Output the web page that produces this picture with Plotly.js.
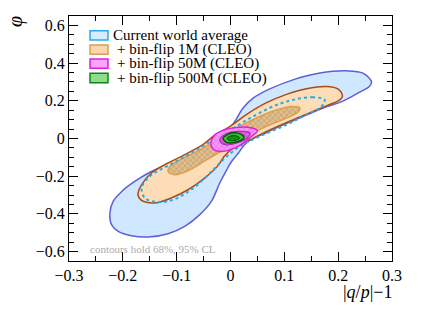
<!DOCTYPE html>
<html><head><meta charset="utf-8">
<script src="https://cdn.plot.ly/plotly-3.0.1.min.js"></script>
<style>html,body{margin:0;padding:0;background:#fff}#plot{width:436px;height:315px}</style>
</head><body><div id="plot"></div>
<script>
// Contour outlines: x = |q/p|-1, y = phi
const worldAvg95X = [0.262,0.246,0.215,0.166,0.116,0.073,0.042,0.023,0.008,-0.005,-0.030,-0.048,-0.079,-0.110,-0.147,-0.178,-0.202,-0.218,-0.224,-0.221,-0.2085,-0.184,-0.153,-0.116,-0.085,-0.057,-0.035,-0.020,-0.007,0.002,0.014,0.030,0.067,0.116,0.178,0.209,0.240,0.258,0.262];
const worldAvg95Y = [0.300,0.347,0.359,0.347,0.311,0.263,0.214,0.161,0.090,0.045,0.005,-0.051,-0.092,-0.130,-0.175,-0.228,-0.281,-0.334,-0.395,-0.457,-0.493,-0.516,-0.5225,-0.505,-0.466,-0.404,-0.331,-0.236,-0.166,-0.122,-0.080,-0.022,0.032,0.094,0.168,0.198,0.246,0.276,0.300];

const worldAvg68X = [0.175,0.153,0.116,0.079,0.042,0.005,-0.032,-0.069,-0.1126,-0.150,-0.165,-0.159,-0.137,-0.1065,-0.069,-0.038,-0.0137,0.017,0.054,0.104,0.141,0.169,0.175];
const worldAvg68Y = [0.205,0.219,0.205,0.170,0.117,0.055,-0.007,-0.069,-0.139,-0.201,-0.263,-0.316,-0.337,-0.325,-0.263,-0.183,-0.113,-0.042,0.011,0.073,0.126,0.170,0.205];

const flip1M95X = [0.208,0.200,0.178,0.141,0.104,0.067,0.030,0.000,-0.030,-0.050,-0.085,-0.116,-0.147,-0.165,-0.172,-0.166,-0.154,-0.134,-0.110,-0.079,-0.048,-0.022,-0.012,0.005,0.030,0.067,0.116,0.178,0.203,0.208];
const flip1M95Y = [0.225,0.262,0.276,0.264,0.234,0.190,0.128,0.066,0.016,-0.030,-0.086,-0.130,-0.183,-0.245,-0.298,-0.327,-0.340,-0.339,-0.316,-0.272,-0.210,-0.140,-0.095,-0.051,-0.016,0.037,0.099,0.173,0.205,0.225];

const flip1M68X = [0.1286,0.116,0.085,0.054,0.017,-0.020,-0.057,-0.094,-0.1126,-0.1158,-0.103,-0.0755,-0.0445,-0.0074,0.0297,0.0668,0.104,0.1255,0.1286];
const flip1M68Y = [0.163,0.170,0.152,0.117,0.064,0.002,-0.060,-0.113,-0.148,-0.175,-0.192,-0.166,-0.113,-0.051,0.011,0.064,0.108,0.140,0.163];

const flip50M95X = [-0.0365,-0.029,-0.012,0.002,0.0327,0.050,0.039,0.014,-0.0167,-0.0323,-0.0365];
const flip50M95Y = [-0.024,0.020,0.045,0.055,0.060,0.040,0.011,-0.042,-0.069,-0.056,-0.024];
const flip50M68X = [-0.020,-0.008,0.015,0.036,0.032,0.012,-0.010,-0.020];
const flip50M68Y = [-0.010,0.025,0.038,0.030,0.005,-0.024,-0.033,-0.010];

const flip500M95X = [-0.0137,-0.005,0.002,0.020,0.025,0.011,-0.007,-0.0137];
const flip500M95Y = [0.002,0.022,0.029,0.022,0.004,-0.019,-0.021,0.002];
const flip500M68X = [-0.006,0.000,0.012,0.017,0.008,-0.003,-0.006];
const flip500M68Y = [0.002,0.013,0.013,0.002,-0.010,-0.010,0.002];

const legendLabels = ['Current world average', '+ bin-flip 1M (CLEO)', '+ bin-flip 50M (CLEO)', '+ bin-flip 500M (CLEO)'];
const xTicks = [-0.3,-0.2,-0.1,0,0.1,0.2,0.3];
const yTicks = [-0.6,-0.4,-0.2,0,0.2,0.4,0.6];

const SERIF = "Liberation Serif";

function region(x, y, fill, line, lw, pattern) {
  const t = {x: x, y: y, type: 'scatter', mode: 'lines', fill: 'toself',
    fillcolor: fill, line: {color: line, width: lw, shape: 'spline', smoothing: 1},
    hoverinfo: 'skip', showlegend: false};
  if (pattern) t.fillpattern = pattern;
  return t;
}

const traces = [
  region(worldAvg95X, worldAvg95Y, 'rgb(207,231,255)', 'rgb(95,95,215)', 1.5),
  region(flip1M95X, flip1M95Y, 'rgb(253,221,184)', 'rgb(170,75,25)', 1.5),
  region(flip1M68X, flip1M68Y, 'rgb(215,175,125)', 'rgb(215,160,85)', 1.5,
    {shape: 'x', bgcolor: 'rgb(225,190,140)', fgcolor: 'rgb(185,140,95)', size: 4, solidity: 0.25}),
  {x: worldAvg68X, y: worldAvg68Y, type: 'scatter', mode: 'lines',
    line: {color: 'rgb(40,170,230)', width: 2, dash: 'dot', shape: 'spline'}, hoverinfo: 'skip', showlegend: false},
  region(flip50M95X, flip50M95Y, 'rgb(245,140,245)', 'rgb(225,30,225)', 1.5,
    {shape: 'x', bgcolor: 'rgb(245,150,245)', fgcolor: 'rgb(230,90,230)', size: 4, solidity: 0.2}),
  region(flip50M68X, flip50M68Y, 'rgb(220,90,220)', 'rgb(170,40,190)', 1.2,
    {shape: 'x', bgcolor: 'rgb(225,100,225)', fgcolor: 'rgb(180,50,190)', size: 4, solidity: 0.25}),
  region(flip500M95X, flip500M95Y, 'rgb(60,190,60)', 'rgb(0,90,0)', 1.5),
  region(flip500M68X, flip500M68Y, 'rgb(20,140,20)', 'rgb(0,80,0)', 1,
    {shape: 'x', bgcolor: 'rgb(30,150,30)', fgcolor: 'rgb(0,100,0)', size: 3, solidity: 0.3})
];

// manual legend (paper coords)
const plotL = 69, plotR = 392, plotT = 16, plotB = 261;
const px = v => (v - plotL) / (plotR - plotL);
const py = v => (plotB - v) / (plotB - plotT);
const boxRows = [[30.7,40],[45,54.3],[59,68.3],[73.3,82.7]];
const boxStyles = [
  ['rgb(215,236,255)','rgb(40,170,230)'],
  ['rgb(250,215,175)','rgb(215,160,85)'],
  ['rgb(248,165,248)','rgb(225,30,225)'],
  ['rgb(140,220,140)','rgb(20,130,20)']
];
const shapes = boxRows.map((r, i) => ({type: 'rect', xref: 'paper', yref: 'paper',
  x0: px(90), x1: px(108), y0: py(r[1]), y1: py(r[0]),
  fillcolor: boxStyles[i][0], line: {color: boxStyles[i][1], width: 1.5}}));

const annotations = legendLabels.map((t, i) => ({xref: 'paper', yref: 'paper',
  x: px(i === 0 ? 112 : 116), y: py((boxRows[i][0] + boxRows[i][1]) / 2), xanchor: 'left', yanchor: 'middle',
  text: t, showarrow: false, borderpad: 0, font: {family: SERIF, size: 15, color: '#000'}}));
annotations.push({xref: 'paper', yref: 'paper', x: px(89), y: py(248.5), xanchor: 'left', yanchor: 'middle',
  text: 'contours hold 68%, 95% CL', showarrow: false, borderpad: 0, font: {family: SERIF, size: 11, color: '#aaaaaa'}});
annotations.push({xref: 'paper', yref: 'paper', x: px(393), y: py(292), xanchor: 'right', yanchor: 'middle',
  text: '|<i>q</i>/<i>p</i>|\u22121', showarrow: false, borderpad: 0, font: {family: SERIF, size: 18, color: '#000'}});
annotations.push({xref: 'paper', yref: 'paper', x: px(16), y: py(22), xanchor: 'center', yanchor: 'middle',
  text: '<i>\u03c6</i>', textangle: -90, showarrow: false, borderpad: 0, font: {family: SERIF, size: 20, color: '#000'}});

const axBase = {showgrid: false, zeroline: false, showline: true, linecolor: '#000', linewidth: 1,
  mirror: 'allticks', ticks: 'inside', ticklen: 9, tickwidth: 1, tickcolor: '#000',
  tickfont: {family: SERIF, size: 16, color: '#000'}, tickmode: 'array'};

const fmt = v => v === 0 ? '0' : (v < 0 ? '\u2212' : '') + Math.abs(v).toFixed(1);

const layout = {
  width: 436, height: 315,
  font: {family: SERIF, size: 16, color: '#000'},
  margin: {l: plotL, r: 436 - plotR, t: plotT, b: 315 - plotB},
  paper_bgcolor: '#fff', plot_bgcolor: '#fff',
  xaxis: Object.assign({}, axBase, {range: [-0.3, 0.3], tickvals: xTicks, ticktext: xTicks.map(fmt),
    minor: {dtick: 0.05, tick0: 0, ticks: 'inside', ticklen: 5, tickcolor: '#000', showgrid: false}}),
  yaxis: Object.assign({}, axBase, {range: [-0.65, 0.65], tickvals: yTicks, ticktext: yTicks.map(fmt),
    minor: {dtick: 0.05, tick0: 0, ticks: 'inside', ticklen: 5, tickcolor: '#000', showgrid: false}}),
  shapes: shapes, annotations: annotations, showlegend: false
};

Plotly.newPlot('plot', traces, layout, {staticPlot: true, displayModeBar: false});
</script></body></html>
